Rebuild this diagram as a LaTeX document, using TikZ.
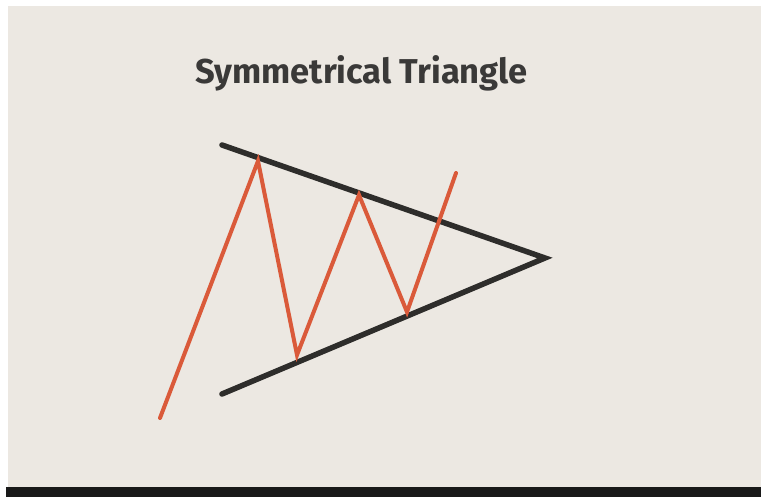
\documentclass[tikz,border=0pt]{standalone}
\usepackage{fontspec}
\setmainfont{Fira Sans}
\definecolor{bg}{HTML}{ECE8E2}
\definecolor{trend}{HTML}{2E2D2B}
\definecolor{price}{HTML}{DA5A3A}
\definecolor{titlec}{HTML}{3A3938}
\begin{document}
\begin{tikzpicture}[x=1pt,y=-1pt,
  trendline/.style={draw=trend,line width=5.5pt,line cap=round,line join=miter},
  priceline/.style={draw=price,line width=4pt,line cap=round,line join=miter},
  titletext/.style={font=\fontsize{34.5}{40}\selectfont\bfseries,text=titlec,inner sep=0pt,anchor=base west}]
\useasboundingbox (0,0) rectangle (761,497);
\fill[white] (0,0) rectangle (761,497);
\fill[bg] (8,6) rectangle (761,487);
\fill[black!90] (6,487) rectangle (761,497);
\node[titletext] (title) at (195,84) {Symmetrical Triangle};
\coordinate (ustart) at (222,145);
\coordinate (lstart) at (222,394);
\coordinate (apex) at (545,258);
\draw[trendline] (ustart) -- (apex) -- (lstart);
\coordinate (p0) at (160,418);
\coordinate (p1) at (258,161);
\coordinate (p2) at (297,355);
\coordinate (p3) at (359,195);
\coordinate (p4) at (407,312);
\coordinate (p5) at (456,173);
\draw[priceline] (p0) -- (p1) -- (p2) -- (p3) -- (p4) -- (p5);
\end{tikzpicture}
\end{document}
